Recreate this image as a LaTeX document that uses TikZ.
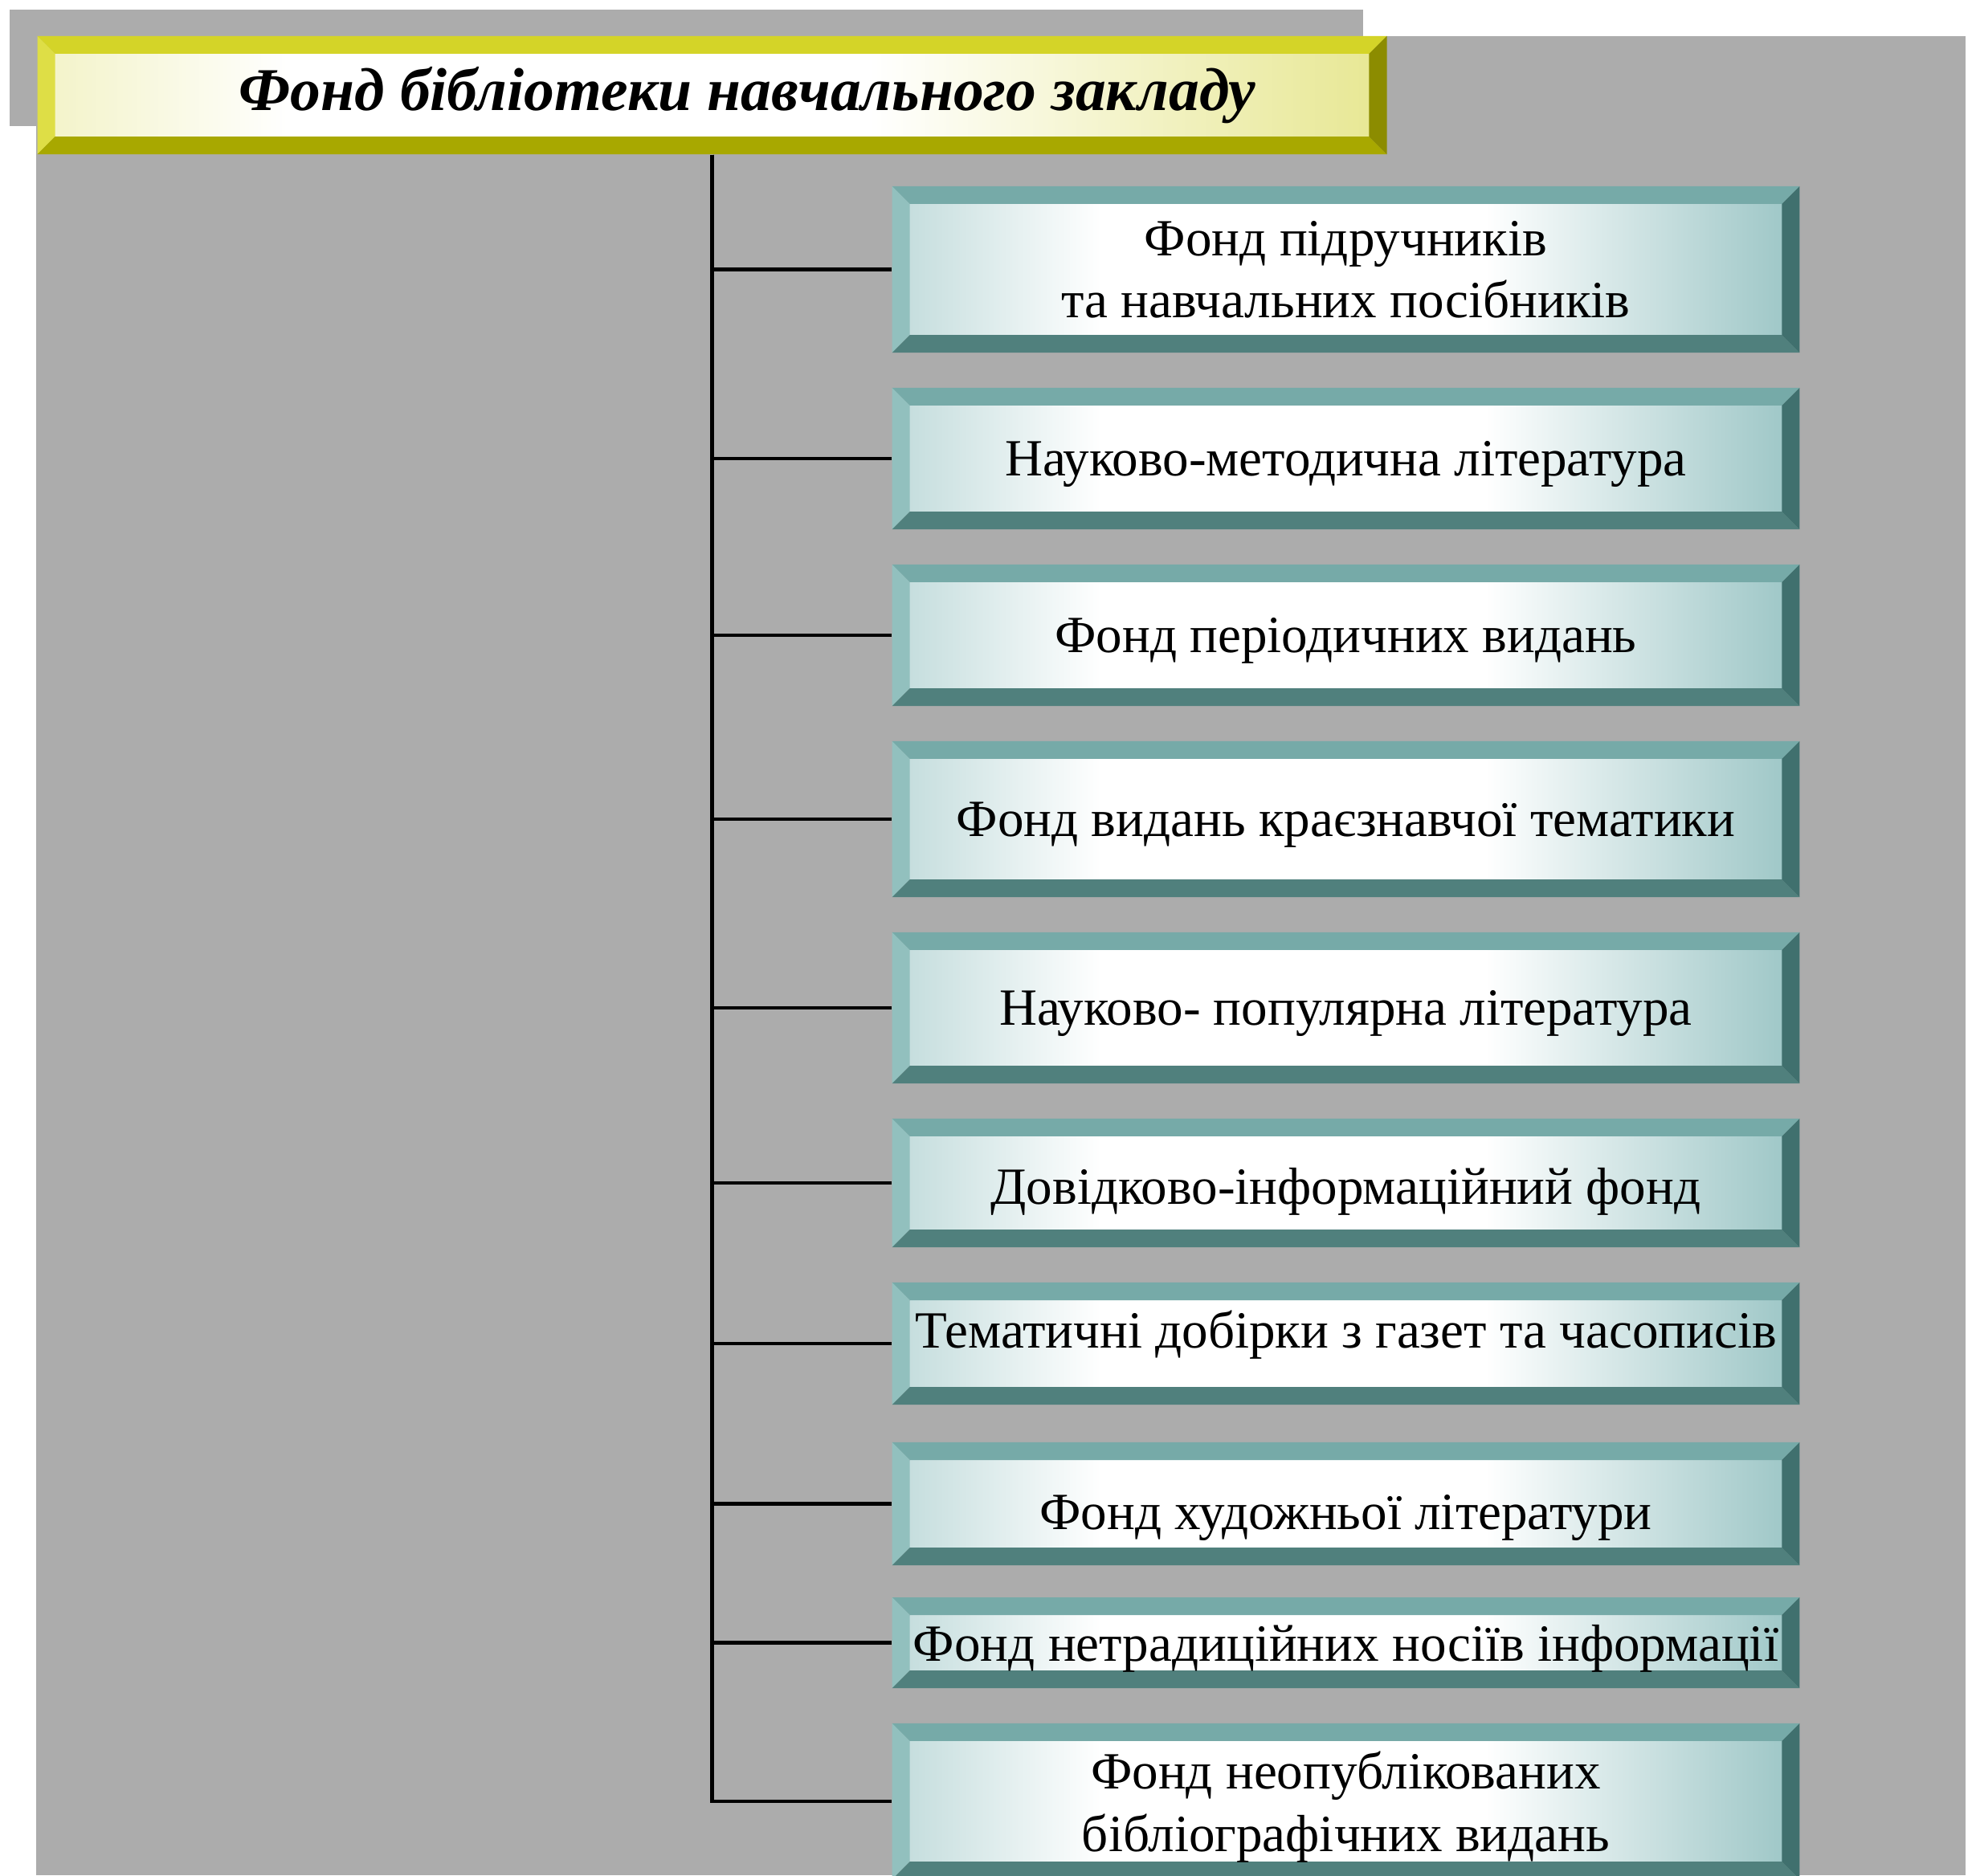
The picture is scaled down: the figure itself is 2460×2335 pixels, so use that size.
\documentclass[tikz,border=0pt]{standalone}
\usepackage{fontspec}
\setmainfont{Liberation Serif}
\usepackage{tikz}

\definecolor{bggray}{RGB}{172,172,172}
\definecolor{tealtop}{RGB}{118,170,168}
\definecolor{tealleft}{RGB}{146,192,190}
\definecolor{tealbot}{RGB}{80,128,125}
\definecolor{tealright}{RGB}{64,112,110}
\definecolor{tealin}{RGB}{160,200,200}
\definecolor{yeltop}{RGB}{212,212,40}
\definecolor{yelleft}{RGB}{222,222,70}
\definecolor{yelbot}{RGB}{168,168,0}
\definecolor{yelright}{RGB}{140,140,0}
\definecolor{yelin}{RGB}{232,232,150}
\newcommand\bev{0.22cm}

\pgfdeclarehorizontalshading{fondshade}{100bp}{color(0bp)=(tealin!60!white); color(25bp)=(tealin!60!white);
  color(36bp)=(white); color(58bp)=(white); color(75bp)=(tealin); color(100bp)=(tealin)}
\pgfdeclarehorizontalshading{titleshade}{100bp}{color(0bp)=(yelin!50!white); color(25bp)=(yelin!50!white);
  color(34bp)=(white); color(56bp)=(white); color(75bp)=(yelin); color(100bp)=(yelin)}

\begin{document}
\begin{tikzpicture}[x=0.01cm,y=-0.01cm,
    bevel/.style n args={5}{path picture={
        \coordinate (pnw) at (path picture bounding box.north west);
        \coordinate (pne) at (path picture bounding box.north east);
        \coordinate (psw) at (path picture bounding box.south west);
        \coordinate (pse) at (path picture bounding box.south east);
        \shade[shading=#5] ([shift={(\bev,-\bev)}]pnw) rectangle ([shift={(-\bev,\bev)}]pse);
        \fill[#1] (pnw) -- (pne) -- ([shift={(-\bev,-\bev)}]pne) -- ([shift={(\bev,-\bev)}]pnw) -- cycle;
        \fill[#2] (pnw) -- ([shift={(\bev,-\bev)}]pnw) -- ([shift={(\bev,\bev)}]psw) -- (psw) -- cycle;
        \fill[#3] (psw) -- ([shift={(\bev,\bev)}]psw) -- ([shift={(-\bev,\bev)}]pse) -- (pse) -- cycle;
        \fill[#4] (pne) -- (pse) -- ([shift={(-\bev,\bev)}]pse) -- ([shift={(-\bev,-\bev)}]pne) -- cycle;
      }},
    fondbox/.style={bevel={tealtop}{tealleft}{tealbot}{tealright}{fondshade},
      minimum width=11.29cm, inner sep=0pt, text depth=0pt, align=center, font=\fontsize{18.5}{22}\selectfont},
    titlebox/.style={bevel={yeltop}{yelleft}{yelbot}{yelright}{titleshade},
      minimum width=16.79cm, minimum height=1.47cm, inner sep=0pt, font=\fontsize{21.5}{24}\selectfont\bfseries\itshape},
    conn/.style={line width=1.3pt}]
  \useasboundingbox (0,0) rectangle (2460,2335);
  \fill[white] (0,0) rectangle (2460,2335);
  \fill[bggray] (12,12) rectangle (1697,157);
  \fill[bggray] (45,45) rectangle (2447,2335);

  \node[titlebox] (title) at (886.5,118.5) {\hspace*{0.88cm}Фонд бібліотеки навчального закладу};

  \node[fondbox,minimum height=2.07cm] (b1) at (1675.5,335.5) {Фонд підручників\\та навчальних посібників};
  \node[fondbox,minimum height=1.76cm] (b2) at (1675.5,571) {Науково-методична література};
  \node[fondbox,minimum height=1.76cm] (b3) at (1675.5,791) {Фонд періодичних видань};
  \node[fondbox,minimum height=1.94cm] (b4) at (1675.5,1020) {Фонд видань краєзнавчої тематики};
  \node[fondbox,minimum height=1.88cm] (b5) at (1675.5,1255) {Науково- популярна література};
  \node[fondbox,minimum height=1.60cm] (b6) at (1675.5,1473) {\raisebox{-0.07cm}{Довідково-інформаційний фонд}};
  \node[fondbox,minimum height=1.52cm] (b7) at (1675.5,1673) {\raisebox{0.35cm}{Тематичні добірки з газет та часописів}};
  \node[fondbox,minimum height=1.53cm] (b8) at (1675.5,1872.5) {\raisebox{-0.2cm}{Фонд художньої літератури}};
  \node[fondbox,minimum height=1.13cm] (b9) at (1675.5,2045.5) {Фонд нетрадиційних носіїв інформації};
  \node[fondbox,minimum height=1.94cm] (b10) at (1675.5,2243) {Фонд неопублікованих\\бібліографічних видань};

  \draw[conn] (title.south) |- (b1.west);
  \draw[conn] (title.south) |- (b2.west);
  \draw[conn] (title.south) |- (b3.west);
  \draw[conn] (title.south) |- (b4.west);
  \draw[conn] (title.south) |- (b5.west);
  \draw[conn] (title.south) |- (b6.west);
  \draw[conn] (title.south) |- (b7.west);
  \draw[conn] (title.south) |- (b8.west);
  \draw[conn] (title.south) |- (b9.west);
  \draw[conn] (title.south) |- (b10.west);
\end{tikzpicture}
\end{document}
